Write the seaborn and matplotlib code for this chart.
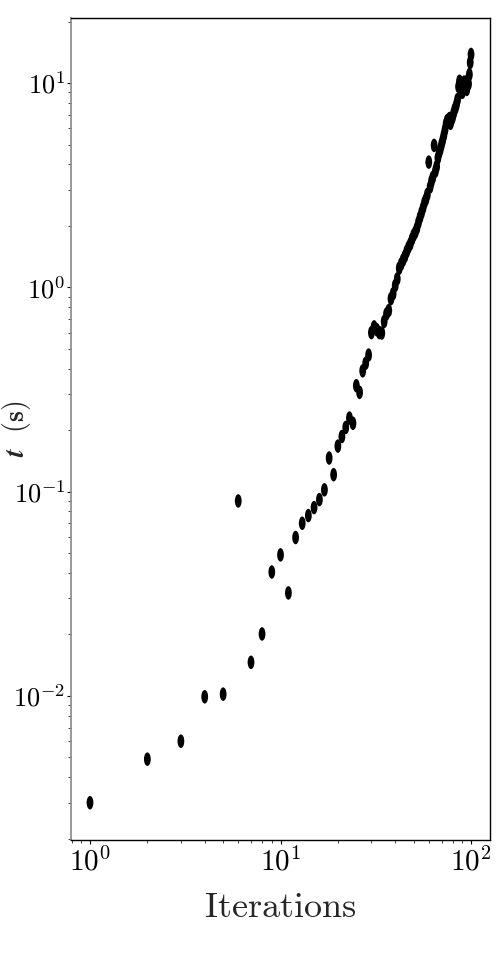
import numpy as np
import pandas as pd
import matplotlib
matplotlib.use("Agg")
import matplotlib.pyplot as plt
import seaborn as sns
from matplotlib.path import Path
from matplotlib.transforms import Affine2D
from matplotlib.ticker import LogLocator, NullFormatter, FuncFormatter

# Run time per iteration count
iterations = list(range(1, 101))
times = [
    0.0030, 0.0049, 0.0060, 0.0099, 0.0102, 0.090, 0.0146, 0.0201, 0.0404, 0.049,
    0.0319, 0.0596, 0.070, 0.0763, 0.0835, 0.0914, 0.102, 0.146, 0.121, 0.167,
    0.186, 0.206, 0.229, 0.216, 0.330, 0.306, 0.390, 0.425, 0.466, 0.600,
    0.640, 0.620, 0.600, 0.597, 0.680, 0.740, 0.770, 0.880, 0.930, 1.02,
    1.10, 1.24, 1.30, 1.36, 1.42, 1.50, 1.57, 1.63, 1.72, 1.80,
    1.86, 1.95, 2.08, 2.20, 2.32, 2.45, 2.60, 2.70, 2.85, 4.10,
    3.10, 3.30, 3.45, 4.95, 3.70, 3.90, 4.30, 4.55, 4.75, 5.00,
    5.25, 5.55, 5.90, 6.30, 6.55, 6.45, 6.70, 6.35, 6.60, 6.80,
    7.10, 7.40, 7.60, 7.90, 8.30, 9.60, 10.2, 10.0, 9.40, 9.00,
    9.70, 10.1, 9.50, 9.80, 9.30, 10.3, 9.90, 11.0, 12.6, 13.8,
]

df = pd.DataFrame({"iterations": iterations, "t": times})

sns.set_style("white")
plt.rcParams["mathtext.fontset"] = "cm"
plt.rcParams["font.family"] = ["DejaVu Serif"]

# tall ellipse marker (the original looks horizontally squeezed)
ellipse = Path.unit_circle().transformed(Affine2D().scale(0.5, 1.0))

fig = plt.figure(figsize=(4.98, 9.69), dpi=100)
ax = fig.add_axes([0.1426, 0.1331, 0.8414, 0.8483])

sns.scatterplot(data=df, x="iterations", y="t", marker=ellipse, s=95,
                color="black", edgecolor="none", linewidth=0, ax=ax, legend=False)

ax.set_xscale("log")
ax.set_yscale("log")
ax.set_xlim(0.795, 125.8)
ax.set_ylim(0.00197, 20.8)

def pow_label(v, pos):
    return r"$10^{%d}$" % int(round(np.log10(v)))

ax.xaxis.set_major_locator(LogLocator(base=10, numticks=10))
ax.yaxis.set_major_locator(LogLocator(base=10, numticks=10))
ax.xaxis.set_major_formatter(FuncFormatter(pow_label))
ax.yaxis.set_major_formatter(FuncFormatter(pow_label))
ax.xaxis.set_minor_locator(LogLocator(base=10, subs=np.arange(2, 10), numticks=20))
ax.yaxis.set_minor_locator(LogLocator(base=10, subs=np.arange(2, 10), numticks=20))
ax.xaxis.set_minor_formatter(NullFormatter())
ax.yaxis.set_minor_formatter(NullFormatter())

ax.tick_params(axis="x", which="major", direction="out", length=3, width=0.8,
               labelsize=21, pad=2, bottom=True, colors="black")
ax.tick_params(axis="y", which="major", direction="out", length=3, width=0.8,
               labelsize=19, pad=1, left=True, colors="black")
ax.tick_params(axis="both", which="minor", direction="out", length=2, width=0.6,
               bottom=True, left=True)

for side in ["top", "right", "bottom"]:
    ax.spines[side].set_color("black")
    ax.spines[side].set_linewidth(1.0)
ax.spines["left"].set_color("#888888")
ax.spines["left"].set_linewidth(1.2)

ax.set_xlabel(r"$\mathrm{Iterations}$", fontsize=26, labelpad=10)
ax.set_ylabel(r"$\boldsymbol{t}\ \ \mathbf{(s)}$", fontsize=20)
ax.yaxis.set_label_coords(-0.09, 0.5)

fig.savefig("out.png", dpi=100)
